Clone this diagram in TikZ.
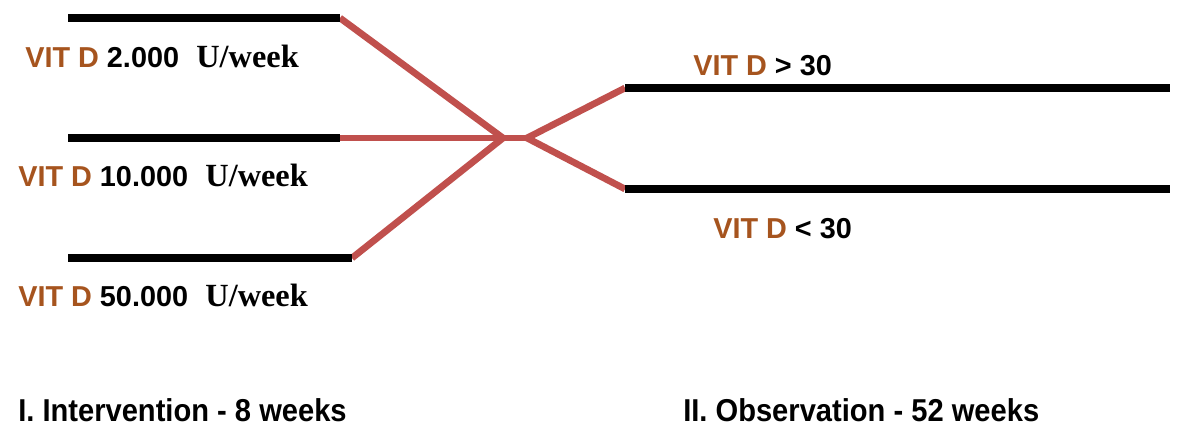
\documentclass[tikz,border=0pt]{standalone}
\usepackage{fontspec}
\setmainfont{Liberation Serif}
\setsansfont{Liberation Sans}
\newfontfamily\narrowsans[FakeStretch=0.92]{Liberation Sans}
\definecolor{vitbrown}{RGB}{166,84,30}
\definecolor{armred}{RGB}{192,80,77}
\usetikzlibrary{positioning}
\newcommand{\unitweek}{\hspace{0.6em}\fontsize{23}{24}\rmfamily\bfseries U/week}

\begin{document}
\begin{tikzpicture}[x=0.025cm, y=-0.025cm,
    arm/.style={line width=5pt, black},
    link/.style={line width=4.8pt, armred},
    dose/.style={anchor=base west, inner sep=0pt, font=\fontsize{20.5}{22}\sffamily\bfseries},
    phase/.style={anchor=base west, inner sep=0pt, font=\fontsize{22.5}{24}\narrowsans\bfseries},
  ]
    \useasboundingbox (0,0) rectangle (1181,436);
    % intervention arms
    \coordinate (a1) at (68,18);  \coordinate (b1) at (340,18);
    \coordinate (a2) at (68,138); \coordinate (b2) at (340,138);
    \coordinate (a3) at (68,258); \coordinate (b3) at (352,258);
    \coordinate (x) at (503,138); \coordinate (y) at (527,138);
    % observation arms
    \coordinate (c1) at (625,88);  \coordinate (d1) at (1170,88);
    \coordinate (c2) at (625,189); \coordinate (d2) at (1170,189);
    \draw[link] (b1) -- (x);
    \draw[link] (b2) -- (y);
    \draw[link] (b3) -- (x);
    \draw[link] (y) -- (c1);
    \draw[link] (y) -- (c2);
    \draw[arm] (a1) -- (b1);
    \draw[arm] (a2) -- (b2);
    \draw[arm] (a3) -- (b3);
    \draw[arm] (c1) -- (d1);
    \draw[arm] (c2) -- (d2);
    \node[dose] (l1) at (25,67) {\color{vitbrown}VIT D \color{black}2.000\unitweek};
    \node[dose] (l2) at (18,186) {\color{vitbrown}VIT D \color{black}10.000\unitweek};
    \node[dose] (l3) at (18,306) {\color{vitbrown}VIT D \color{black}50.000\unitweek};
    \node[dose] (o1) at (693,75) {\color{vitbrown}VIT D \color{black}> 30};
    \node[dose] (o2) at (713,238) {\color{vitbrown}VIT D \color{black}< 30};
    \node[phase] (p1) at (18,421) {I. Intervention - 8 weeks};
    \node[phase] (p2) at (683,421) {II. Observation - 52 weeks};
  \end{tikzpicture}
\end{document}
